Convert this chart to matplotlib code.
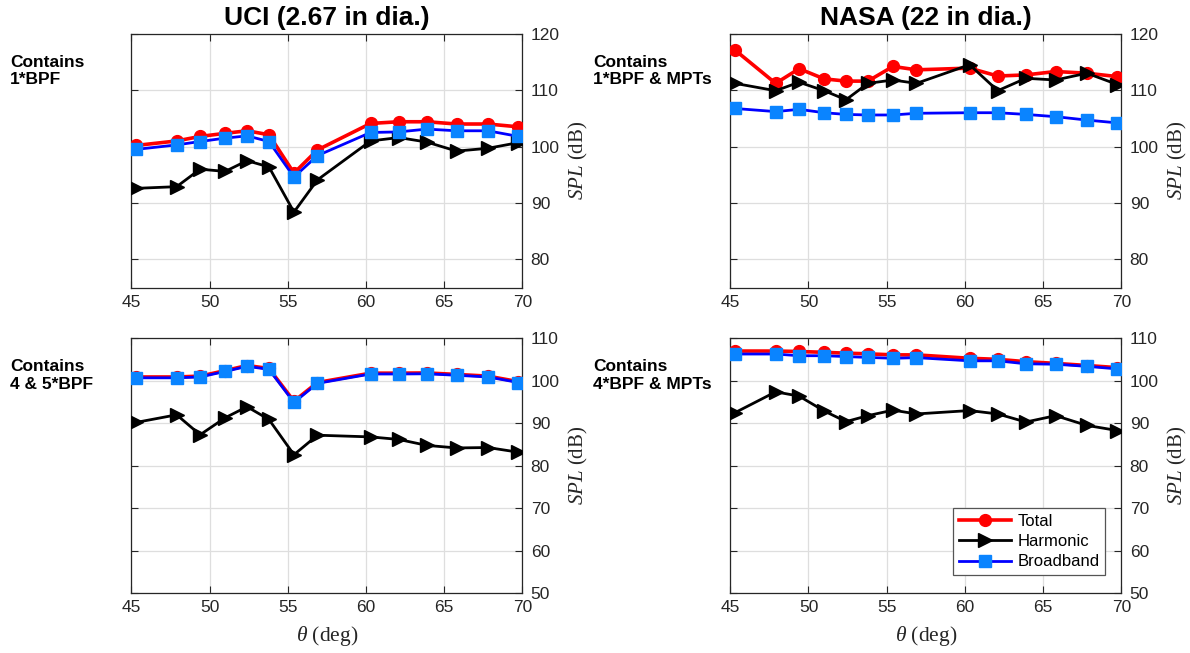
import matplotlib
matplotlib.use("Agg")
import matplotlib.pyplot as plt

plt.rcParams["font.family"] = ["Liberation Sans", "DejaVu Sans"]
plt.rcParams["mathtext.fontset"] = "custom"
plt.rcParams["mathtext.rm"] = "Liberation Serif"
plt.rcParams["mathtext.it"] = "Liberation Serif:italic"

# Polar angles (deg), shared by every case
theta = [45.3, 47.9, 49.4, 51.0, 52.4, 53.8, 55.4, 56.9, 60.3, 62.1, 63.9, 65.8, 67.8, 69.75]

# UCI rotor, 1*BPF
uci_bpf1_total = [100.2, 101.0, 101.8, 102.35, 102.8, 102.1, 95.3, 99.4, 104.1, 104.4, 104.4, 104.0, 104.0, 103.5]
uci_bpf1_harm = [92.6, 92.9, 96.0, 95.6, 97.5, 96.4, 88.4, 94.1, 101.0, 101.6, 100.8, 99.2, 99.7, 100.7]
uci_bpf1_broad = [99.5, 100.3, 100.9, 101.5, 101.9, 100.9, 94.6, 98.4, 102.5, 102.6, 103.1, 102.8, 102.8, 101.8]

# NASA rotor, 1*BPF & MPTs
nasa_bpf1_total = [117.1, 111.2, 113.8, 112.0, 111.6, 111.6, 114.2, 113.6, 113.9, 112.5, 112.7, 113.3, 113.0, 112.4]
nasa_bpf1_harm = [111.2, 109.9, 111.4, 109.9, 108.3, 111.2, 111.8, 111.2, 114.5, 109.9, 112.1, 111.8, 113.0, 111.0]
nasa_bpf1_broad = [106.75, 106.2, 106.6, 106.0, 105.7, 105.6, 105.6, 105.9, 106.0, 106.0, 105.7, 105.3, 104.7, 104.2]

# UCI rotor, 4 & 5*BPF
uci_bpf45_total = [100.9, 100.9, 101.1, 102.4, 103.6, 102.9, 95.2, 99.6, 101.8, 101.8, 101.85, 101.5, 101.1, 99.8]
uci_bpf45_harm = [90.2, 92.0, 87.3, 91.3, 93.9, 90.9, 82.6, 87.2, 86.8, 86.2, 84.8, 84.2, 84.3, 83.2]
uci_bpf45_broad = [100.7, 100.7, 100.9, 102.2, 103.4, 102.7, 94.9, 99.4, 101.6, 101.6, 101.65, 101.3, 100.9, 99.6]

# NASA rotor, 4*BPF & MPTs
nasa_bpf4_total = [107.0, 107.0, 106.9, 106.7, 106.5, 106.35, 106.1, 106.1, 105.3, 105.05, 104.5, 104.1, 103.6, 103.1]
nasa_bpf4_harm = [92.5, 97.4, 96.4, 92.9, 90.4, 91.8, 93.1, 92.2, 93.0, 92.2, 90.3, 91.8, 89.5, 88.3]
nasa_bpf4_broad = [106.3, 106.3, 105.9, 105.9, 105.7, 105.5, 105.3, 105.45, 104.7, 104.7, 104.0, 103.9, 103.4, 102.8]

titles = ["UCI (2.67 in dia.)", "NASA (22 in dia.)"]
row_labels = [["Contains\n1*BPF", "Contains\n1*BPF & MPTs"],
              ["Contains\n4 & 5*BPF", "Contains\n4*BPF & MPTs"]]
x_ticks = [45, 50, 55, 60, 65, 70]
top_ylim, top_yticks = (75, 120), [80, 90, 100, 110, 120]
bot_ylim, bot_yticks = (50, 110), [50, 60, 70, 80, 90, 100, 110]

panels = [
    [(uci_bpf1_total, uci_bpf1_harm, uci_bpf1_broad), (nasa_bpf1_total, nasa_bpf1_harm, nasa_bpf1_broad)],
    [(uci_bpf45_total, uci_bpf45_harm, uci_bpf45_broad), (nasa_bpf4_total, nasa_bpf4_harm, nasa_bpf4_broad)],
]

W, H = 1190, 653
fig = plt.figure(figsize=(W / 100, H / 100), dpi=100)

col_x = [131.3, 730.3]
ax_w = 391.0
row_y = [(33.7, 287.7), (338.3, 593.3)]
dark = "#262626"

for r in range(2):
    for c in range(2):
        top_px, bot_px = row_y[r]
        ax = fig.add_axes([col_x[c] / W, 1 - bot_px / H, ax_w / W, (bot_px - top_px) / H])
        total, harm, broad = panels[r][c]
        ax.plot(theta, total, color="red", lw=2.6, marker="o", ms=8.5,
                mfc="red", mec="red", label="Total", zorder=3)
        ax.plot(theta, harm, color="black", lw=2.0, marker=">", ms=10.5,
                mfc="black", mec="black", label="Harmonic", zorder=4)
        ax.plot(theta, broad, color="blue", lw=2.0, marker="s", ms=8.0,
                mfc="#0a84ff", mec="#0a84ff", label="Broadband", zorder=5)

        ax.set_xlim(45, 70)
        ax.set_xticks(x_ticks)
        if r == 0:
            ax.set_ylim(*top_ylim)
            ax.set_yticks(top_yticks)
        else:
            ax.set_ylim(*bot_ylim)
            ax.set_yticks(bot_yticks)

        ax.yaxis.tick_right()
        ax.yaxis.set_label_position("right")
        ax.tick_params(axis="both", which="both", direction="in", length=5,
                       width=0.8, color=dark, labelcolor=dark, labelsize=12.5,
                       top=True, bottom=True, left=True, right=True,
                       labelleft=False, labelright=True)
        ax.tick_params(axis="y", pad=6)
        ax.tick_params(axis="x", pad=5)
        for s in ax.spines.values():
            s.set_color(dark)
            s.set_linewidth(0.9)
        ax.grid(True, color="#dedede", lw=0.9)
        ax.set_axisbelow(True)

        ax.set_ylabel(r"$\mathit{SPL}$ (dB)", fontsize=15, color=dark,
                      family="Liberation Serif", labelpad=5)
        if r == 0:
            ax.set_title(titles[c], fontsize=19, fontweight="bold", pad=6)
        else:
            ax.set_xlabel(r"$\mathit{\theta}$ (deg)", fontsize=15.5, color=dark,
                          family="Liberation Serif", labelpad=6)

        label_x = 10 if c == 0 else 593
        fig.text(label_x / W, 1 - (top_px + 21) / H, row_labels[r][c],
                 fontsize=12.5, fontweight="bold", ha="left", va="top",
                 linespacing=1.2)

        if r == 1 and c == 1:
            leg = ax.legend(loc="lower right", bbox_to_anchor=(1 - 16 / ax_w, 18 / 255),
                            borderaxespad=0, fontsize=12, handlelength=3.1,
                            fancybox=False, framealpha=1, edgecolor="#555555",
                            labelspacing=0.32, handletextpad=0.4, borderpad=0.35)
            leg.get_frame().set_linewidth(0.9)

fig.savefig("out.png", dpi=100)
